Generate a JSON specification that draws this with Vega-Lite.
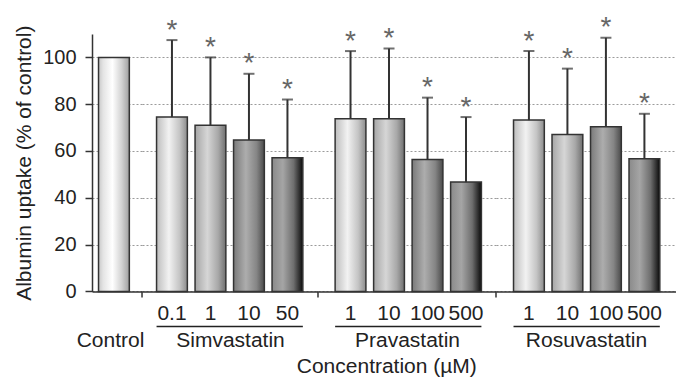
{
  "$schema": "https://vega.github.io/schema/vega-lite/v6.json",
  "padding": {"left": 13, "top": 14, "right": 0, "bottom": 0},
  "autosize": {"type": "pad"},
  "bounds": "flush",
  "spacing": 0,
  "data": {"values": [
    {"group": "Control", "dose": "c", "mean": 100, "upper": null, "star": null},
    {"group": "Simvastatin", "dose": "0.1", "mean": 74.5, "upper": 107.4, "star": "*"},
    {"group": "Simvastatin", "dose": "1", "mean": 71.0, "upper": 100.0, "star": "*"},
    {"group": "Simvastatin", "dose": "10", "mean": 64.7, "upper": 93.0, "star": "*"},
    {"group": "Simvastatin", "dose": "50", "mean": 57.1, "upper": 82.0, "star": "*"},
    {"group": "Pravastatin", "dose": "1", "mean": 73.8, "upper": 102.7, "star": "*"},
    {"group": "Pravastatin", "dose": "10", "mean": 73.8, "upper": 103.8, "star": "*"},
    {"group": "Pravastatin", "dose": "100", "mean": 56.4, "upper": 82.8, "star": "*"},
    {"group": "Pravastatin", "dose": "500", "mean": 46.7, "upper": 74.5, "star": "*"},
    {"group": "Rosuvastatin", "dose": "1", "mean": 73.2, "upper": 102.7, "star": "*"},
    {"group": "Rosuvastatin", "dose": "10", "mean": 67.1, "upper": 95.2, "star": "*"},
    {"group": "Rosuvastatin", "dose": "100", "mean": 70.4, "upper": 108.4, "star": "*"},
    {"group": "Rosuvastatin", "dose": "500", "mean": 56.7, "upper": 75.9, "star": "*"}
  ]},
  "transform": [{"window": [{"op": "row_number", "as": "k"}], "groupby": ["group"]}],
  "title": {"text": "Concentration (µM)", "orient": "bottom", "anchor": "middle", "fontSize": 21, "fontWeight": "normal", "color": "#222", "dx": 42, "offset": 6},
  "resolve": {"scale": {"x": "independent", "y": "independent"}},
  "hconcat": [
    {
      "width": 50, "height": 257.4,
      "transform": [{"filter": "datum.group == 'Control'"}],
      "encoding": {"x": {"field": "dose", "type": "nominal", "sort": null,
        "scale": {"paddingInner": 0.2, "paddingOuter": 0.2494, "align": 0.34, "round": false},
        "axis": {"title": "Control", "labels": false, "ticks": false, "titlePadding": 38, "titleX": 18}}},
      "layer": [
        {"mark": {"type": "bar", "stroke": "#333", "strokeWidth": 1.5},
         "encoding": {
           "y": {"field": "mean", "type": "quantitative", "scale": {"domain": [0, 110], "nice": false},
             "axis": {"title": "Albumin uptake (% of control)", "values": [0, 20, 40, 60, 80, 100], "grid": true, "ticks": true, "tickSize": 7, "labelPadding": 9, "labelFontSize": 20, "titlePadding": 8}},
           "fill": {"value": {"gradient": "linear", "stops": [
             {"offset": 0, "color": "#c8c8c8"}, {"offset": 0.15, "color": "#e4e4e4"}, {"offset": 0.45, "color": "#ffffff"},
             {"offset": 0.75, "color": "#d2d2d2"}, {"offset": 0.92, "color": "#b0b0b0"}, {"offset": 1, "color": "#9a9a9a"}]}}
         }}
      ]
    },
    {
      "width": 176, "height": 257.4,
      "transform": [{"filter": "datum.group == 'Simvastatin'"}],
      "encoding": {
        "x": {"field": "dose", "type": "nominal", "sort": null,
          "scale": {"paddingInner": 0.2, "paddingOuter": 0.3857, "align": 0.49, "round": false},
          "axis": {"title": "Simvastatin"}},
        "y": {"field": "mean", "type": "quantitative", "scale": {"domain": [0, 110], "nice": false},
          "axis": {"title": null, "values": [0, 20, 40, 60, 80, 100], "grid": true, "ticks": false, "labels": false, "domainOpacity": 0}}
      },
      "layer": [
        {"mark": {"type": "bar", "stroke": "#333", "strokeWidth": 1.5},
         "encoding": {
           "fill": {"condition": [
             {"test": "datum.k == 1", "value": {"gradient": "linear", "stops": [{"offset": 0, "color": "#bdbdbd"}, {"offset": 0.4, "color": "#f2f2f2"}, {"offset": 0.75, "color": "#c4c4c4"}, {"offset": 1, "color": "#8c8c8c"}]}},
             {"test": "datum.k == 2", "value": {"gradient": "linear", "stops": [{"offset": 0, "color": "#a6a6a6"}, {"offset": 0.4, "color": "#d6d6d6"}, {"offset": 0.75, "color": "#a8a8a8"}, {"offset": 1, "color": "#707070"}]}},
             {"test": "datum.k == 3", "value": {"gradient": "linear", "stops": [{"offset": 0, "color": "#7a7a7a"}, {"offset": 0.4, "color": "#adadad"}, {"offset": 0.75, "color": "#858585"}, {"offset": 1, "color": "#4a4a4a"}]}}],
             "value": {"gradient": "linear", "stops": [{"offset": 0, "color": "#8a8a8a"}, {"offset": 0.35, "color": "#a5a5a5"}, {"offset": 0.7, "color": "#6e6e6e"}, {"offset": 1, "color": "#0a0a0a"}]}}
         }},
        {"mark": {"type": "rule", "color": "#333", "strokeWidth": 2},
         "encoding": {"y2": {"field": "upper"}}},
        {"mark": {"type": "tick", "color": "#333", "size": 11, "thickness": 2},
         "encoding": {"y": {"field": "upper", "type": "quantitative", "scale": {"domain": [0, 110], "nice": false},
           "axis": {"title": null, "values": [0, 20, 40, 60, 80, 100], "grid": true, "ticks": false, "labels": false, "domainOpacity": 0}}}},
        {"mark": {"type": "text", "baseline": "alphabetic", "dy": -1.5, "fontSize": 28, "color": "#666"},
         "encoding": {"y": {"field": "upper", "type": "quantitative", "scale": {"domain": [0, 110], "nice": false},
           "axis": {"title": null, "values": [0, 20, 40, 60, 80, 100], "grid": true, "ticks": false, "labels": false, "domainOpacity": 0}}, "text": {"field": "star"}}},
        {"transform": [{"filter": "datum.k == 1"}],
         "mark": {"type": "rule", "color": "#222", "strokeWidth": 1.5},
         "encoding": {"x": {"datum": "0.1", "bandPosition": 0}, "x2": {"datum": "50", "bandPosition": 1}, "y": {"datum": -15, "type": "quantitative"}}},
        {"transform": [{"filter": "datum.k == 1"}],
         "mark": {"type": "rule", "color": "#333", "strokeWidth": 1.5},
         "encoding": {"x": {"datum": "0.1", "bandPosition": -0.472}, "y": {"datum": 0, "type": "quantitative"}, "y2": {"datum": -2.6}}}
      ]
    },
    {
      "width": 178, "height": 257.4,
      "transform": [{"filter": "datum.group == 'Pravastatin'"}],
      "encoding": {
        "x": {"field": "dose", "type": "nominal", "sort": null,
          "scale": {"paddingInner": 0.2, "paddingOuter": 0.4117, "align": 0.54, "round": false},
          "axis": {"title": "Pravastatin"}},
        "y": {"field": "mean", "type": "quantitative", "scale": {"domain": [0, 110], "nice": false},
          "axis": {"title": null, "values": [0, 20, 40, 60, 80, 100], "grid": true, "ticks": false, "labels": false, "domainOpacity": 0}}
      },
      "layer": [
        {"mark": {"type": "bar", "stroke": "#333", "strokeWidth": 1.5},
         "encoding": {
           "fill": {"condition": [
             {"test": "datum.k == 1", "value": {"gradient": "linear", "stops": [{"offset": 0, "color": "#bdbdbd"}, {"offset": 0.4, "color": "#f2f2f2"}, {"offset": 0.75, "color": "#c4c4c4"}, {"offset": 1, "color": "#8c8c8c"}]}},
             {"test": "datum.k == 2", "value": {"gradient": "linear", "stops": [{"offset": 0, "color": "#a6a6a6"}, {"offset": 0.4, "color": "#d6d6d6"}, {"offset": 0.75, "color": "#a8a8a8"}, {"offset": 1, "color": "#707070"}]}},
             {"test": "datum.k == 3", "value": {"gradient": "linear", "stops": [{"offset": 0, "color": "#7a7a7a"}, {"offset": 0.4, "color": "#adadad"}, {"offset": 0.75, "color": "#858585"}, {"offset": 1, "color": "#4a4a4a"}]}}],
             "value": {"gradient": "linear", "stops": [{"offset": 0, "color": "#8a8a8a"}, {"offset": 0.35, "color": "#a5a5a5"}, {"offset": 0.7, "color": "#6e6e6e"}, {"offset": 1, "color": "#0a0a0a"}]}}
         }},
        {"mark": {"type": "rule", "color": "#333", "strokeWidth": 2},
         "encoding": {"y2": {"field": "upper"}}},
        {"mark": {"type": "tick", "color": "#333", "size": 11, "thickness": 2},
         "encoding": {"y": {"field": "upper", "type": "quantitative", "scale": {"domain": [0, 110], "nice": false},
           "axis": {"title": null, "values": [0, 20, 40, 60, 80, 100], "grid": true, "ticks": false, "labels": false, "domainOpacity": 0}}}},
        {"mark": {"type": "text", "baseline": "alphabetic", "dy": -1.5, "fontSize": 28, "color": "#666"},
         "encoding": {"y": {"field": "upper", "type": "quantitative", "scale": {"domain": [0, 110], "nice": false},
           "axis": {"title": null, "values": [0, 20, 40, 60, 80, 100], "grid": true, "ticks": false, "labels": false, "domainOpacity": 0}}, "text": {"field": "star"}}},
        {"transform": [{"filter": "datum.k == 1"}],
         "mark": {"type": "rule", "color": "#222", "strokeWidth": 1.5},
         "encoding": {"x": {"datum": "1", "bandPosition": 0}, "x2": {"datum": "500", "bandPosition": 1}, "y": {"datum": -15, "type": "quantitative"}}},
        {"transform": [{"filter": "datum.k == 1"}],
         "mark": {"type": "rule", "color": "#333", "strokeWidth": 1.5},
         "encoding": {"x": {"datum": "1", "bandPosition": -0.556}, "y": {"datum": 0, "type": "quantitative"}, "y2": {"datum": -2.6}}}
      ]
    },
    {
      "width": 180, "height": 257.4,
      "transform": [{"filter": "datum.group == 'Rosuvastatin'"}],
      "encoding": {
        "x": {"field": "dose", "type": "nominal", "sort": null,
          "scale": {"paddingInner": 0.2, "paddingOuter": 0.4377, "align": 0.52, "round": false},
          "axis": {"title": "Rosuvastatin"}},
        "y": {"field": "mean", "type": "quantitative", "scale": {"domain": [0, 110], "nice": false},
          "axis": {"title": null, "values": [0, 20, 40, 60, 80, 100], "grid": true, "ticks": false, "labels": false, "domainOpacity": 0}}
      },
      "layer": [
        {"mark": {"type": "bar", "stroke": "#333", "strokeWidth": 1.5},
         "encoding": {
           "fill": {"condition": [
             {"test": "datum.k == 1", "value": {"gradient": "linear", "stops": [{"offset": 0, "color": "#bdbdbd"}, {"offset": 0.4, "color": "#f2f2f2"}, {"offset": 0.75, "color": "#c4c4c4"}, {"offset": 1, "color": "#8c8c8c"}]}},
             {"test": "datum.k == 2", "value": {"gradient": "linear", "stops": [{"offset": 0, "color": "#a6a6a6"}, {"offset": 0.4, "color": "#d6d6d6"}, {"offset": 0.75, "color": "#a8a8a8"}, {"offset": 1, "color": "#707070"}]}},
             {"test": "datum.k == 3", "value": {"gradient": "linear", "stops": [{"offset": 0, "color": "#7a7a7a"}, {"offset": 0.4, "color": "#adadad"}, {"offset": 0.75, "color": "#858585"}, {"offset": 1, "color": "#4a4a4a"}]}}],
             "value": {"gradient": "linear", "stops": [{"offset": 0, "color": "#8a8a8a"}, {"offset": 0.35, "color": "#a5a5a5"}, {"offset": 0.7, "color": "#6e6e6e"}, {"offset": 1, "color": "#0a0a0a"}]}}
         }},
        {"mark": {"type": "rule", "color": "#333", "strokeWidth": 2},
         "encoding": {"y2": {"field": "upper"}}},
        {"mark": {"type": "tick", "color": "#333", "size": 11, "thickness": 2},
         "encoding": {"y": {"field": "upper", "type": "quantitative", "scale": {"domain": [0, 110], "nice": false},
           "axis": {"title": null, "values": [0, 20, 40, 60, 80, 100], "grid": true, "ticks": false, "labels": false, "domainOpacity": 0}}}},
        {"mark": {"type": "text", "baseline": "alphabetic", "dy": -1.5, "fontSize": 28, "color": "#666"},
         "encoding": {"y": {"field": "upper", "type": "quantitative", "scale": {"domain": [0, 110], "nice": false},
           "axis": {"title": null, "values": [0, 20, 40, 60, 80, 100], "grid": true, "ticks": false, "labels": false, "domainOpacity": 0}}, "text": {"field": "star"}}},
        {"transform": [{"filter": "datum.k == 1"}],
         "mark": {"type": "rule", "color": "#222", "strokeWidth": 1.5},
         "encoding": {"x": {"datum": "1", "bandPosition": 0}, "x2": {"datum": "500", "bandPosition": 1}, "y": {"datum": -15, "type": "quantitative"}}},
        {"transform": [{"filter": "datum.k == 1"}],
         "mark": {"type": "rule", "color": "#333", "strokeWidth": 1.5},
         "encoding": {"x": {"datum": "1", "bandPosition": -0.569}, "y": {"datum": 0, "type": "quantitative"}, "y2": {"datum": -2.6}}}
      ]
    }
  ],
  "config": {
    "font": "Liberation Sans",
    "view": {"stroke": null},
    "axis": {"labelColor": "#222", "titleColor": "#222", "titleFontWeight": "normal", "titleFontSize": 21, "labelFontSize": 21,
      "domainColor": "#333", "domainWidth": 1.5, "tickColor": "#333", "tickWidth": 1.5,
      "gridColor": "#9a9a9a", "gridDash": [2, 2], "gridWidth": 1},
    "axisX": {"labelAngle": 0, "ticks": false, "tickSize": 0, "labelPadding": 11, "titlePadding": 6, "grid": false}
  }
}
